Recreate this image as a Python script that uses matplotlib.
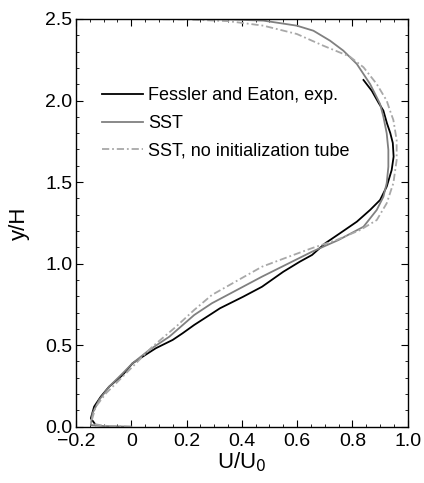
import matplotlib
matplotlib.use("Agg")
import matplotlib.pyplot as plt
from matplotlib.ticker import MultipleLocator, FixedLocator, FixedFormatter

plt.rcParams['font.family'] = ['Liberation Sans', 'DejaVu Sans']

# Fessler and Eaton, experiment
exp_u = [-0.128, -0.146, -0.134, -0.110, -0.080, -0.031, 0.005, 0.041, 0.089, 0.150, 0.186,
         0.228, 0.292, 0.321, 0.405, 0.473, 0.550, 0.610, 0.654, 0.702, 0.755, 0.816,
         0.864, 0.900, 0.924, 0.942, 0.949, 0.946, 0.937, 0.925, 0.912, 0.895, 0.870, 0.840]
exp_v = [0.010, 0.051, 0.123, 0.184, 0.245, 0.317, 0.389, 0.429, 0.481, 0.532, 0.573,
         0.624, 0.694, 0.726, 0.797, 0.858, 0.950, 1.012, 1.053, 1.125, 1.186, 1.257,
         1.329, 1.390, 1.472, 1.574, 1.656, 1.740, 1.800, 1.860, 1.938, 1.985, 2.060, 2.126]

# SST
sst_u = [0.000, -0.100, -0.146, -0.140, -0.116, -0.080, -0.031, 0.005, 0.065, 0.138, 0.228,
         0.292, 0.473, 0.654, 0.750, 0.840, 0.888, 0.912, 0.924, 0.930, 0.930, 0.924, 0.912,
         0.900, 0.864, 0.816, 0.767, 0.719, 0.659, 0.599, 0.478, 0.357, 0.150, 0.000]
sst_v = [0.000, 0.004, 0.010, 0.082, 0.164, 0.245, 0.327, 0.389, 0.470, 0.552, 0.685,
         0.757, 0.920, 1.073, 1.145, 1.226, 1.329, 1.410, 1.493, 1.594, 1.697, 1.799, 1.901,
         1.979, 2.101, 2.224, 2.306, 2.367, 2.428, 2.459, 2.490, 2.497, 2.500, 2.500]

# SST, no initialization tube
nit_u = [0.000, -0.100, -0.146, -0.128, -0.091, -0.043, 0.005, 0.077, 0.162, 0.228, 0.292,
         0.473, 0.574, 0.654, 0.743, 0.828, 0.888, 0.924, 0.948, 0.960, 0.960, 0.948, 0.936,
         0.924, 0.888, 0.840, 0.790, 0.695, 0.599, 0.478, 0.350, 0.200, 0.000]
nit_v = [0.000, 0.006, 0.020, 0.123, 0.205, 0.286, 0.368, 0.491, 0.613, 0.716, 0.808,
         0.981, 1.045, 1.095, 1.145, 1.206, 1.267, 1.370, 1.493, 1.635, 1.758, 1.881, 1.938,
         1.999, 2.101, 2.204, 2.270, 2.336, 2.408, 2.459, 2.487, 2.497, 2.500]

xticks = [-0.2, 0.0, 0.2, 0.4, 0.6, 0.8, 1.0]
xticklabels = ['\u22120.2', '0', '0.2', '0.4', '0.6', '0.8', '1.0']
yticks = [0.0, 0.5, 1.0, 1.5, 2.0, 2.5]
yticklabels = ['0.0', '0.5', '1.0', '1.5', '2.0', '2.5']

fig = plt.figure(figsize=(4.24, 4.83), dpi=100)
ax = fig.add_axes([0.179, 0.1166, 0.7826, 0.8441])

ax.plot(exp_u, exp_v, color='black', lw=1.3, label='Fessler and Eaton, exp.')
ax.plot(sst_u, sst_v, color='#808080', lw=1.3, label='SST')
ax.plot(nit_u, nit_v, color='#a8a8a8', lw=1.3, ls=(0, (4, 1.6, 1, 1.6)),
        label='SST, no initialization tube')

ax.set_xlim(-0.2, 1.0)
ax.set_ylim(0.0, 2.5)
ax.xaxis.set_major_locator(FixedLocator(xticks))
ax.xaxis.set_major_formatter(FixedFormatter(xticklabels))
ax.yaxis.set_major_locator(FixedLocator(yticks))
ax.yaxis.set_major_formatter(FixedFormatter(yticklabels))
ax.xaxis.set_minor_locator(MultipleLocator(0.05))
ax.yaxis.set_minor_locator(MultipleLocator(0.1))
ax.tick_params(which='both', direction='in', top=True, right=True, labelsize=14)
ax.tick_params(axis='x', which='major', pad=4.5)
ax.tick_params(axis='y', which='major', pad=2.5)
ax.tick_params(which='major', length=5, width=0.8)
ax.tick_params(which='minor', length=2.5, width=0.6)
for s in ax.spines.values():
    s.set_linewidth(1.0)

ax.set_xlabel('U/U$_0$', fontsize=16, labelpad=0)
ax.set_ylabel('y/H', fontsize=16, labelpad=11)

leg = ax.legend(loc='upper left', bbox_to_anchor=(0.0775, 0.833), frameon=False, fontsize=13,
                handlelength=2.3, handletextpad=0.28, labelspacing=0.6, borderaxespad=0,
                borderpad=0)

fig.savefig('out.png', dpi=100)
